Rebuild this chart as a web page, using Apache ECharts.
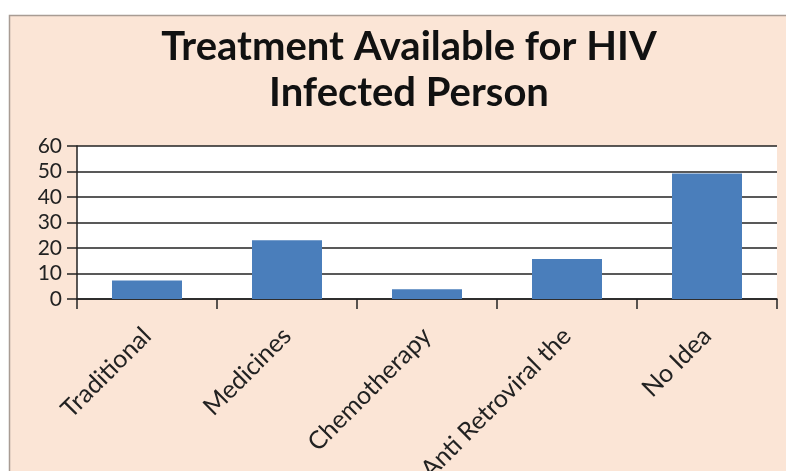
<!DOCTYPE html>
<html>
<head>
<meta charset="utf-8">
<script src="https://cdn.jsdelivr.net/npm/echarts@6/dist/echarts.min.js"></script>
<style>
html,body{margin:0;padding:0;background:#fff;}
#c{width:786px;height:471px;}
</style>
</head>
<body>
<div id="c"></div>
<script>
const categories = ['Traditional', 'Medicines', 'Chemotherapy', 'Anti Retroviral the', 'No Idea'];
const values = [7.3, 23, 3.8, 15.7, 49.2];
const yTicks = [0, 10, 20, 30, 40, 50, 60];
const titleText = 'Treatment Available for HIV\nInfected Person';

const chart = echarts.init(document.getElementById('c'), null, {renderer: 'canvas'});
chart.setOption({
  backgroundColor: '#ffffff',
  animation: false,
  graphic: [{
    type: 'rect',
    z: -10,
    shape: {x: 9.5, y: 15.5, width: 800, height: 470},
    style: {fill: '#FBE5D6', stroke: '#A89C94', lineWidth: 1.5}
  }],
  title: {
    text: titleText,
    left: 404,
    top: 19,
    textAlign: 'center',
    textStyle: {
      fontFamily: 'Lato',
      fontWeight: 'bold',
      fontSize: 40,
      lineHeight: 46,
      color: '#111111'
    }
  },
  grid: {
    left: 77, right: 9, top: 146, bottom: 172,
    outerBoundsMode: 'none',
    containLabel: false,
    show: true, backgroundColor: '#ffffff', borderWidth: 0
  },
  xAxis: {
    type: 'category',
    data: categories,
    axisLine: {show: true, lineStyle: {color: '#222', width: 1.5}},
    axisTick: {show: true, length: 10, alignWithLabel: false, lineStyle: {color: '#222', width: 1.5}},
    axisLabel: {
      rotate: 45, margin: 33, interval: 0,
      align: 'right', verticalAlign: 'middle',
      fontFamily: 'Lato', fontSize: 25, color: '#222'
    }
  },
  yAxis: {
    type: 'value',
    min: yTicks[0], max: yTicks[yTicks.length - 1], interval: 10,
    axisLine: {show: true, lineStyle: {color: '#222', width: 1.5}},
    axisTick: {show: true, length: 10, lineStyle: {color: '#222', width: 1.5}},
    splitLine: {show: true, lineStyle: {color: '#222', width: 1.5}},
    axisLabel: {margin: 15, fontFamily: 'Lato', fontSize: 21, color: '#222'}
  },
  series: [{
    type: 'bar',
    data: values,
    barWidth: '50%',
    itemStyle: {color: '#4A7EBB'}
  }]
});
</script>
</body>
</html>
